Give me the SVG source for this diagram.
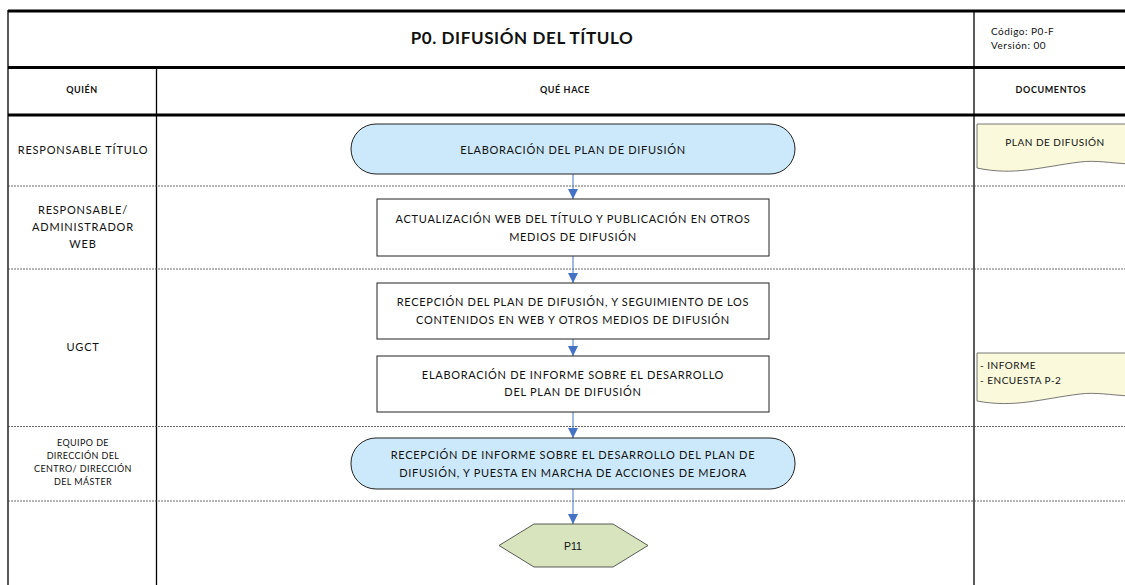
<svg xmlns="http://www.w3.org/2000/svg" width="1125" height="585" viewBox="0 0 1125 585">
<style>
text{font-family:Lato,"Open Sans","Liberation Sans",sans-serif;fill:#111}
.t{font-size:11px;letter-spacing:0.7px;text-anchor:middle}
.lbl{font-size:11px;letter-spacing:0.8px;text-anchor:middle}
.sm{font-size:9px;letter-spacing:0.4px;text-anchor:middle}
.hd{font-size:9px;letter-spacing:0.6px;font-weight:bold;text-anchor:middle}
.dt{font-size:10px;letter-spacing:0.5px}
.thick{stroke:#000;stroke-width:3}
.col{stroke:#000;stroke-width:1.3}
.row{stroke:#444;stroke-width:0.8;stroke-dasharray:2 1}
.term{fill:#CCE9FB;stroke:#222;stroke-width:1}
.box{fill:#fff;stroke:#222;stroke-width:1}
.doc{fill:#FBF9DC;stroke:#555;stroke-width:0.8}
.conn{stroke:#4472C4;stroke-width:1;fill:none}
</style>
<defs>
<marker id="ah" viewBox="0 0 10 10" refX="10" refY="5" markerWidth="10" markerHeight="10" markerUnits="userSpaceOnUse" orient="auto">
<path d="M0,0 L10,5 L0,10 Z" fill="#4472C4"/>
</marker>
</defs>
<rect x="0" y="0" width="1125" height="585" fill="#fff"/>
<g id="grid">
<line class="thick" x1="8" y1="11" x2="1125" y2="11"/>
<line class="thick" x1="8" y1="67.5" x2="1125" y2="67.5"/>
<line class="thick" x1="8" y1="115" x2="1125" y2="115"/>
<line class="col" x1="8" y1="10" x2="8" y2="585"/>
<line class="col" x1="156.5" y1="67" x2="156.5" y2="585"/>
<line class="col" x1="974" y1="10" x2="974" y2="585"/>
<line class="row" x1="8" y1="186" x2="1125" y2="186"/>
<line class="row" x1="8" y1="269" x2="1125" y2="269"/>
<line class="row" x1="8" y1="426.5" x2="1125" y2="426.5"/>
<line class="row" x1="8" y1="501" x2="1125" y2="501"/>
</g>
<g id="header">
<text x="522" y="44" style="font-size:17px;letter-spacing:0.6px;font-weight:bold;text-anchor:middle">P0. DIFUSIÓN DEL TÍTULO</text>
<text class="dt" x="991" y="35">Código: P0-F</text>
<text class="dt" x="991" y="49">Versión: 00</text>
<text class="hd" x="82" y="93">QUIÉN</text>
<text class="hd" x="565" y="93">QUÉ HACE</text>
<text class="hd" x="1051" y="93">DOCUMENTOS</text>
</g>
<g id="roles">
<text class="lbl" x="83" y="154">RESPONSABLE TÍTULO</text>
<text class="lbl" x="83" y="214">RESPONSABLE/</text>
<text class="lbl" x="83" y="231">ADMINISTRADOR</text>
<text class="lbl" x="83" y="248">WEB</text>
<text class="lbl" x="83" y="351">UGCT</text>
<text class="sm" x="83" y="446">EQUIPO DE</text>
<text class="sm" x="83" y="459">DIRECCIÓN DEL</text>
<text class="sm" x="83" y="472">CENTRO/ DIRECCIÓN</text>
<text class="sm" x="83" y="485">DEL MÁSTER</text>
</g>
<g id="connectors">
<line class="conn" x1="573" y1="174" x2="573" y2="199" marker-end="url(#ah)"/>
<line class="conn" x1="573" y1="256" x2="573" y2="283" marker-end="url(#ah)"/>
<line class="conn" x1="573" y1="339" x2="573" y2="356" marker-end="url(#ah)"/>
<line class="conn" x1="573" y1="412" x2="573" y2="438" marker-end="url(#ah)"/>
<line class="conn" x1="573" y1="489" x2="573" y2="524" marker-end="url(#ah)"/>
</g>
<g id="n1">
<rect class="term" x="351" y="124" width="444" height="50" rx="25" ry="25"/>
<text class="t" x="573" y="153.5">ELABORACIÓN DEL PLAN DE DIFUSIÓN</text>
</g>
<g id="n2">
<rect class="box" x="377" y="199" width="392" height="57"/>
<text class="t" x="573" y="223">ACTUALIZACIÓN WEB DEL TÍTULO Y PUBLICACIÓN EN OTROS</text>
<text class="t" x="573" y="241">MEDIOS DE DIFUSIÓN</text>
</g>
<g id="n3">
<rect class="box" x="377" y="283" width="392" height="56"/>
<text class="t" x="573" y="306">RECEPCIÓN DEL PLAN DE DIFUSIÓN, Y SEGUIMIENTO DE LOS</text>
<text class="t" x="573" y="324">CONTENIDOS EN  WEB  Y OTROS MEDIOS DE DIFUSIÓN</text>
</g>
<g id="n4">
<rect class="box" x="377" y="356" width="392" height="56"/>
<text class="t" x="573" y="379">ELABORACIÓN DE INFORME SOBRE EL DESARROLLO</text>
<text class="t" x="573" y="396">DEL PLAN DE DIFUSIÓN</text>
</g>
<g id="n5">
<rect class="term" x="351" y="438" width="444" height="51" rx="25" ry="25"/>
<text class="t" x="573" y="459">RECEPCIÓN DE INFORME SOBRE EL DESARROLLO DEL PLAN DE</text>
<text class="t" x="573" y="477">DIFUSIÓN, Y PUESTA EN MARCHA DE ACCIONES DE MEJORA</text>
</g>
<g id="n6">
<polygon points="499,545.5 534,524 613,524 648,545.5 613,567 534,567" fill="#D7E4BD" stroke="#333" stroke-width="0.8"/>
<text x="573" y="549.5" style="font-family:'Liberation Sans',Arial,sans-serif;font-size:10.5px;text-anchor:middle">P11</text>
</g>
<g id="doc1">
<path class="doc" d="M977,124 H1130 V164 C1110,163 1095,160 1080,162 C1040,167 1015,176 977,168 Z"/>
<text class="dt" x="1055" y="146" style="text-anchor:middle">PLAN DE DIFUSIÓN</text>
</g>
<g id="doc2">
<path class="doc" d="M977,353 H1130 V396 C1110,395 1095,392 1080,394 C1040,399 1015,408 977,401 Z"/>
<text class="dt" x="980" y="369">- INFORME</text>
<text class="dt" x="980" y="384">- ENCUESTA P-2</text>
</g>
</svg>
